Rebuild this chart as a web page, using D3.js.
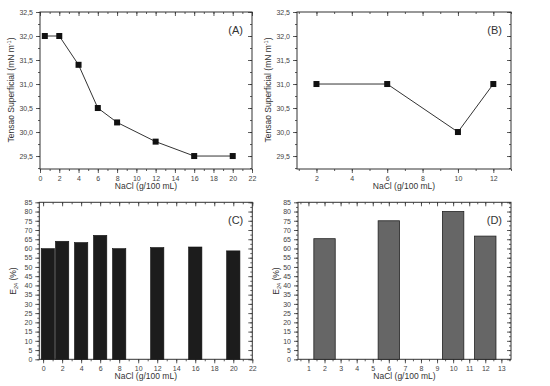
<html>
<head>
<script src="https://d3js.org/d3.v7.min.js"></script>
<style>
  body { margin: 0; background: #fff; }
  text { font-family: "Liberation Sans", Arial, sans-serif; fill: #333; }
</style>
</head>
<body>
<svg width="550" height="386" id="area"></svg>
<script>
// panel A - surface tension vs NaCl
var xA = [0.5, 2, 4, 6, 8, 12, 16, 20];
var yA = [32.0, 32.0, 31.4, 30.5, 30.2, 29.8, 29.5, 29.5];
// panel B
var xB = [2, 6, 10, 12];
var yB = [31.0, 31.0, 30.0, 31.0];
// panel C - E24 bars
var xC = [0.5, 2, 4, 6, 8, 12, 16, 20];
var yC = [59.9, 63.9, 63.2, 67.1, 59.9, 60.5, 60.8, 58.7];
// panel D
var xD = [2, 6, 10, 12];
var yD = [65.3, 75.0, 80.0, 66.7];

var ticksTensX = d3.range(0, 23, 2);
var ticksTensY = [29.5, 30.0, 30.5, 31.0, 31.5, 32.0, 32.5];
var ticksBX = [2, 4, 6, 8, 10, 12];
var ticksCX = d3.range(0, 23, 2);
var ticksEY = d3.range(0, 86, 5);
var ticksDX = d3.range(1, 14, 1);

var svg = d3.select("#area");
var comma = function(f) { return function(d){ return d3.format(f)(d).replace(".", ","); }; };

function frame(p) {
    var x = d3.scaleLinear().domain(p.xdom).range([p.l, p.r]);
    var y = d3.scaleLinear().domain(p.ydom).range([p.b, p.t]);
    var g = svg.append("g");

    // minor ticks on all sides
    var mx = d3.range(Math.ceil(p.xdom[0] / p.xminor) * p.xminor, p.xdom[1] + 1e-6, p.xminor);
    var my = d3.range(Math.ceil(p.ydom[0] / p.yminor) * p.yminor, p.ydom[1] + 1e-6, p.yminor);

    g.append("g").attr("transform", "translate(0," + p.b + ")")
        .call(d3.axisBottom(x).tickValues(mx).tickSize(2).tickFormat(""));
    g.append("g").attr("transform", "translate(0," + p.t + ")")
        .call(d3.axisBottom(x).tickValues(mx).tickSize(2).tickFormat(""));
    g.append("g").attr("transform", "translate(" + p.l + ",0)")
        .call(d3.axisLeft(y).tickValues(my).tickSize(2).tickFormat(""));
    g.append("g").attr("transform", "translate(" + p.r + ",0)")
        .call(d3.axisLeft(y).tickValues(my).tickSize(2).tickFormat(""));

    // major ticks
    g.append("g").attr("transform", "translate(0," + p.b + ")")
        .call(d3.axisBottom(x).tickValues(p.xt).tickSize(4).tickPadding(3).tickFormat(d3.format("d")));
    g.append("g").attr("transform", "translate(0," + p.t + ")")
        .call(d3.axisBottom(x).tickValues(p.xt).tickSize(4).tickFormat(""));
    g.append("g").attr("transform", "translate(" + p.l + ",0)")
        .call(d3.axisLeft(y).tickValues(p.yt).tickSize(4).tickPadding(3).tickFormat(p.yfmt));
    g.append("g").attr("transform", "translate(" + p.r + ",0)")
        .call(d3.axisLeft(y).tickValues(p.yt).tickSize(4).tickFormat(""));

    g.selectAll(".domain").remove();
    g.selectAll("line").attr("stroke", "#333").attr("stroke-width", 0.8);
    g.selectAll(".tick text").attr("font-size", 7).style("fill", "#444")
        .attr("font-family", "Liberation Sans, Arial, sans-serif");

    g.append("rect").attr("x", p.l).attr("y", p.t)
        .attr("width", p.r - p.l).attr("height", p.b - p.t)
        .attr("fill", "none").attr("stroke", "#333").attr("stroke-width", 1);

    // x label
    svg.append("text").attr("x", (p.l + p.r) / 2).attr("y", p.b + 20)
        .attr("text-anchor", "middle").attr("font-size", 8.5).text("NaCl (g/100 mL)");
    // panel letter
    svg.append("text").attr("x", p.r - 9).attr("y", p.t + 22)
        .attr("text-anchor", "end").attr("font-size", 11).text(p.letter);

    return {x: x, y: y, g: g};
}

function tensLabel(xpos) {
    var t = svg.append("text").attr("transform", "translate(" + xpos + ",90) rotate(-90)")
        .attr("text-anchor", "middle").attr("font-size", 8.5);
    t.append("tspan").text("Tensao Superficial (mN m");
    t.append("tspan").attr("font-size", 5.5).attr("dy", -3).text("-1");
    t.append("tspan").attr("dy", 3).text(")");
}
function eLabel(xpos) {
    var t = svg.append("text").attr("transform", "translate(" + xpos + ",281) rotate(-90)")
        .attr("text-anchor", "middle").attr("font-size", 8.5);
    t.append("tspan").text("E");
    t.append("tspan").attr("font-size", 5.5).attr("dy", 2).text("24");
    t.append("tspan").attr("dy", -2).text(" (%)");
}

// ---- A ----
var A = frame({l: 40, r: 252, t: 12, b: 169, xdom: [0, 22], ydom: [29.23, 32.5],
    xt: ticksTensX, yt: ticksTensY, xminor: 1, yminor: 0.25, yfmt: comma(".1f"), letter: "(A)"});
var ptsA = xA.map(function(d, i){ return [d, yA[i]]; });
svg.append("path").attr("d", d3.line().x(function(d){ return A.x(d[0]); }).y(function(d){ return A.y(d[1]); })(ptsA))
    .attr("fill", "none").attr("stroke", "#333").attr("stroke-width", 1);
svg.selectAll(".mA").data(ptsA).enter().append("rect")
    .attr("x", function(d){ return A.x(d[0]) - 3; }).attr("y", function(d){ return A.y(d[1]) - 3; })
    .attr("width", 6).attr("height", 6).attr("fill", "#111");
tensLabel(14);

// ---- B ----
var B = frame({l: 297, r: 511, t: 12, b: 169, xdom: [0.9, 13], ydom: [29.23, 32.5],
    xt: ticksBX, yt: ticksTensY, xminor: 1, yminor: 0.25, yfmt: comma(".1f"), letter: "(B)"});
var ptsB = xB.map(function(d, i){ return [d, yB[i]]; });
svg.append("path").attr("d", d3.line().x(function(d){ return B.x(d[0]); }).y(function(d){ return B.y(d[1]); })(ptsB))
    .attr("fill", "none").attr("stroke", "#333").attr("stroke-width", 1);
svg.selectAll(".mB").data(ptsB).enter().append("rect")
    .attr("x", function(d){ return B.x(d[0]) - 3; }).attr("y", function(d){ return B.y(d[1]) - 3; })
    .attr("width", 6).attr("height", 6).attr("fill", "#111");
tensLabel(271);

// ---- C ----
var C = frame({l: 39.3, r: 252.3, t: 202.3, b: 359.3, xdom: [-0.4, 22], ydom: [0, 85],
    xt: ticksCX, yt: ticksEY, xminor: 1, yminor: 2.5, yfmt: d3.format("d"), letter: "(C)"});
var bwC = 1.4;
svg.selectAll(".bC").data(xC).enter().append("rect")
    .attr("x", function(d){ return C.x(d - bwC / 2); })
    .attr("width", function(d){ return C.x(d + bwC / 2) - C.x(d - bwC / 2); })
    .attr("y", function(d, i){ return C.y(yC[i]); })
    .attr("height", function(d, i){ return C.y(0) - C.y(yC[i]); })
    .attr("fill", "#1c1c1c").attr("stroke", "#111").attr("stroke-width", 0.6);
eLabel(16);

// ---- D ----
var D = frame({l: 298, r: 511, t: 202.3, b: 359.3, xdom: [0.35, 13.6], ydom: [0, 85],
    xt: ticksDX, yt: ticksEY, xminor: 0.5, yminor: 2.5, yfmt: d3.format("d"), letter: "(D)"});
var bwD = 1.33;
svg.selectAll(".bD").data(xD).enter().append("rect")
    .attr("x", function(d){ return D.x(d - bwD / 2); })
    .attr("width", function(d){ return D.x(d + bwD / 2) - D.x(d - bwD / 2); })
    .attr("y", function(d, i){ return D.y(yD[i]); })
    .attr("height", function(d, i){ return D.y(0) - D.y(yD[i]); })
    .attr("fill", "#666").attr("stroke", "#222").attr("stroke-width", 0.8);
eLabel(279);
</script>
</body>
</html>
